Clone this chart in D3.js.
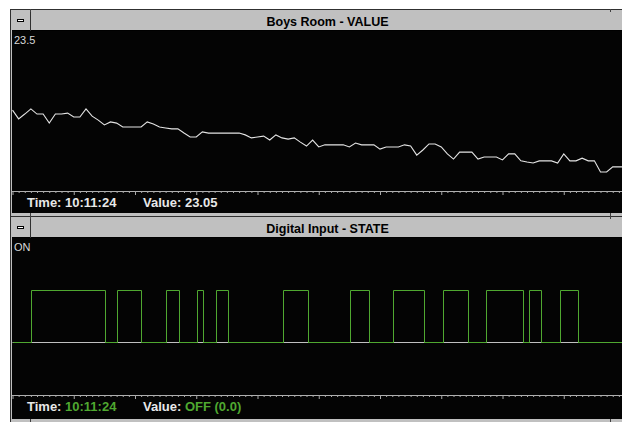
<!DOCTYPE html>
<html lang="en">
<head>
<meta charset="UTF-8">
<title>Boys Room / Digital Input</title>
<script src="https://d3js.org/d3.v7.min.js"></script>
<style>
	body {margin: 0; background: #fff;}
	svg {display: block;}
	text {font-family: "Liberation Sans", Arial, sans-serif;}
</style>
</head>
<body>
<div id="chart"></div>
<script>
// Boys Room temperature, one sample per minor tick
const temps = [
	23.238, 23.209, 23.225, 23.242, 23.225, 23.225, 23.195, 23.225, 23.225, 23.228,
	23.215, 23.215, 23.242, 23.218, 23.205, 23.189, 23.199, 23.195, 23.182, 23.182,
	23.182, 23.182, 23.199, 23.192, 23.182, 23.179, 23.176, 23.176, 23.162, 23.149,
	23.149, 23.166, 23.162, 23.162, 23.162, 23.162, 23.162, 23.162, 23.156, 23.146,
	23.149, 23.152, 23.139, 23.156, 23.146, 23.142, 23.146, 23.132, 23.119, 23.139,
	23.116, 23.123, 23.123, 23.123, 23.123, 23.116, 23.129, 23.123, 23.123, 23.123,
	23.109, 23.116, 23.116, 23.116, 23.123, 23.119, 23.089, 23.106, 23.126, 23.126,
	23.116, 23.093, 23.076, 23.099, 23.099, 23.099, 23.076, 23.083, 23.083, 23.083,
	23.073, 23.093, 23.093, 23.070, 23.066, 23.063, 23.070, 23.070, 23.070, 23.063,
	23.093, 23.070, 23.070, 23.079, 23.070, 23.070, 23.033, 23.033, 23.050, 23.050,
	23.050
];
const tempDomain = [23.0, 23.5];
const tempTopLabel = "23.5";

// Digital input ON periods (start, end) in sample units
const onPeriods = [
	[3.02, 15.10], [17.06, 20.98], [25.06, 27.18], [30.12, 31.10], [33.22, 35.18],
	[44.16, 48.24], [55.10, 58.20], [62.12, 67.18], [70.29, 74.37], [77.31, 83.35],
	[84.33, 86.29], [89.39, 92.33]
];
const stateTopLabel = "ON";

const lastTime = "10:11:24";
const lastTemp = "23.05";
const lastState = "OFF (0.0)";

const W = 622, H = 424;
const green = "#4fa830";

const svg = d3.select("#chart").append("svg")
	.attr("width", W)
	.attr("height", H);

const x = d3.scaleLinear().domain([0, temps.length - 1]).range([12.5, 625]);

// window frame + title bar + black plot area
function drawWindow(top, plotTop, plotBottom, bottom, title) {
	const g = svg.append("g");
	g.append("rect").attr("x", 10).attr("y", top).attr("width", 640).attr("height", bottom - top)
		.attr("fill", "#c0c0c0");
	g.append("line").attr("x1", 10).attr("x2", 650).attr("y1", top + 0.5).attr("y2", top + 0.5)
		.attr("stroke", "#303030");
	g.append("line").attr("x1", 10.5).attr("x2", 10.5).attr("y1", top).attr("y2", bottom)
		.attr("stroke", "#303030");
	g.append("line").attr("x1", 12).attr("x2", 650).attr("y1", plotTop - 0.5).attr("y2", plotTop - 0.5)
		.attr("stroke", "#000");
	// system menu button
	g.append("line").attr("x1", 30.5).attr("x2", 30.5).attr("y1", top).attr("y2", plotTop)
		.attr("stroke", "#303030");
	g.append("rect").attr("x", 17.5).attr("y", top + 10.5).attr("width", 6).attr("height", 2)
		.attr("fill", "#fff").attr("stroke", "#000");
	// frame grips
	[30.5, 610.5].forEach(function(gx){
		g.append("line").attr("x1", gx).attr("x2", gx).attr("y1", top).attr("y2", top + 3)
			.attr("stroke", "#404040");
	});
	g.append("text")
		.attr("x", 327.5).attr("y", top + 17)
		.attr("text-anchor", "middle")
		.attr("font-size", "12.5px").attr("font-weight", "bold")
		.attr("fill", "#000")
		.text(title);
	g.append("rect").attr("x", 12).attr("y", plotTop).attr("width", 640).attr("height", plotBottom - plotTop)
		.attr("fill", "#040404");
	return g;
}

function drawTimeAxis(g, y) {
	const axis = d3.axisBottom(x)
		.tickValues(d3.range(0, temps.length))
		.tickFormat("")
		.tickSizeOuter(0);
	const a = g.append("g").attr("transform", "translate(0," + y + ")").call(axis);
	a.select(".domain").attr("stroke", "#b0b0b0").attr("d", "M12,0.5H650");
	a.selectAll(".tick line")
		.attr("stroke", "#a8a8a8")
		.attr("y2", function(d){ return d % 10 === 0 ? 4 : 2; });
}

// ---- top window: temperature
const w1 = drawWindow(9, 31, 213, 216, "Boys Room - VALUE");
const y1 = d3.scaleLinear().domain(tempDomain).range([182, 31]);

w1.append("text").attr("x", 14).attr("y", 44)
	.attr("font-size", "11px").attr("fill", "#d8d8d8")
	.text(tempTopLabel);

w1.append("path")
	.datum(temps)
	.attr("fill", "none")
	.attr("stroke", "#e4e4e4")
	.attr("stroke-width", 1.1)
	.attr("d", d3.line().x(function(d, i){ return x(i); }).y(function(d){ return y1(d); }));

drawTimeAxis(w1, 191);

const s1 = w1.append("text").attr("y", 207).attr("font-size", "13px").attr("font-weight", "bold").attr("fill", "#e8e8e8");
s1.append("tspan").attr("x", 27).text("Time: " + lastTime);
s1.append("tspan").attr("x", 143).text("Value: " + lastTemp);

// ---- bottom window: digital state
const w2 = drawWindow(216, 238, 419, 422, "Digital Input - STATE");
const y2 = d3.scaleLinear().domain([0, 1]).range([342.5, 290.5]);

w2.append("text").attr("x", 14).attr("y", 251)
	.attr("font-size", "11px").attr("fill", "#d8d8d8")
	.text(stateTopLabel);

let steps = [[0, 0]];
onPeriods.forEach(function(p){
	steps.push([p[0], 1]);
	steps.push([p[1], 0]);
});
steps.push([temps.length - 1, 0]);

w2.append("line")
	.attr("x1", x(0)).attr("x2", x(temps.length - 1))
	.attr("y1", y2(0)).attr("y2", y2(0))
	.attr("stroke", "#c0c0c0");

w2.append("path")
	.datum(steps)
	.attr("fill", "none")
	.attr("stroke", green)
	.attr("stroke-width", 1)
	.attr("d", d3.line().curve(d3.curveStepAfter)
		.x(function(d){ return Math.round(x(d[0])) + 0.5; })
		.y(function(d){ return y2(d[1]); }));

// OFF segments drawn green, ON baseline stays grey
w2.selectAll(".off")
	.data(d3.pairs(steps).filter(function(p){ return p[0][1] === 0; }))
	.enter()
	.append("line")
		.attr("x1", function(p){ return Math.round(x(p[0][0])) + 0.5; })
		.attr("x2", function(p){ return Math.round(x(p[1][0])) + 0.5; })
		.attr("y1", y2(0)).attr("y2", y2(0))
		.attr("stroke", green);

drawTimeAxis(w2, 395);

const s2 = w2.append("text").attr("y", 411).attr("font-size", "13px").attr("font-weight", "bold").attr("fill", "#e8e8e8");
s2.append("tspan").attr("x", 27).text("Time: ");
s2.append("tspan").attr("fill", green).text(lastTime);
s2.append("tspan").attr("x", 143).text("Value: ");
s2.append("tspan").attr("fill", green).text(lastState);

// grips between / below the windows
[30.5, 610.5].forEach(function(gx){
	svg.append("line").attr("x1", gx).attr("x2", gx).attr("y1", 213).attr("y2", 219).attr("stroke", "#404040");
	svg.append("line").attr("x1", gx).attr("x2", gx).attr("y1", 419).attr("y2", 422).attr("stroke", "#404040");
});
</script>
</body>
</html>
